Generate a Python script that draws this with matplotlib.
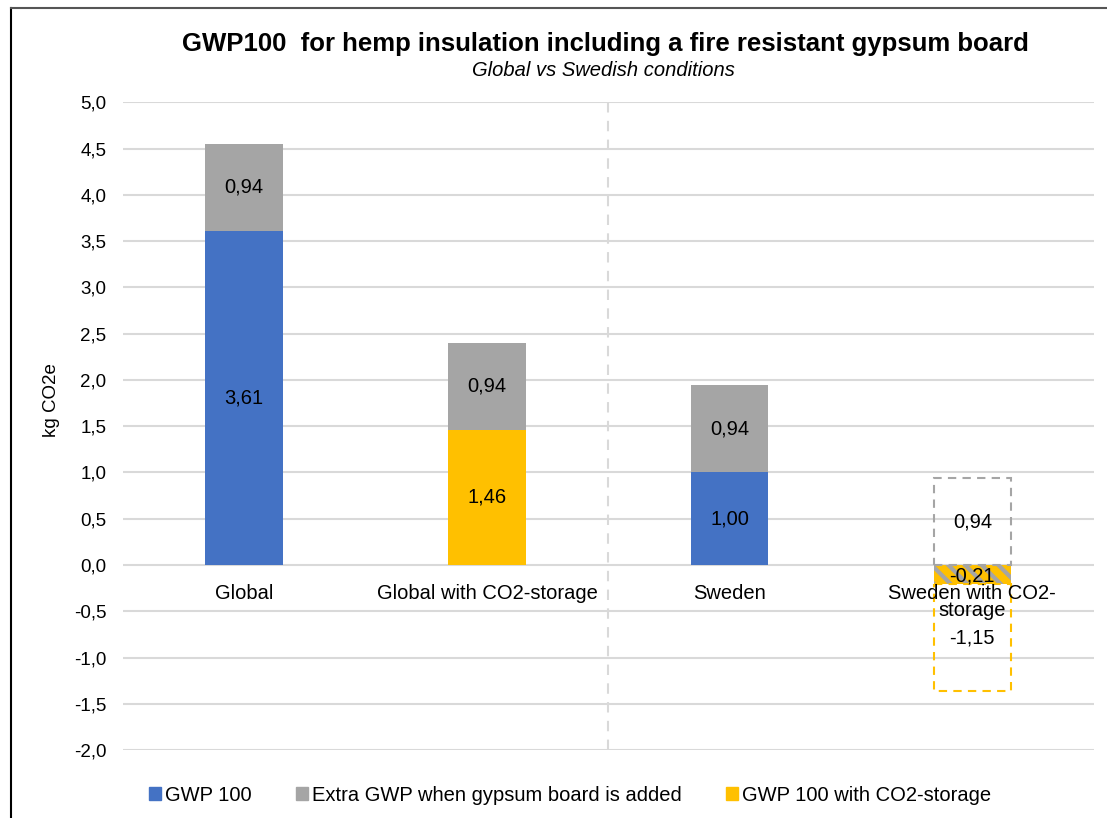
import numpy as np
from matplotlib import pyplot as plt
from matplotlib.patches import Patch

plt.rcParams['font.family'] = ['Liberation Sans', 'DejaVu Sans']

categories = ['Global', 'Global with CO2-storage', 'Sweden', 'Sweden with CO2-\nstorage']
gwp100 = [3.61, np.nan, 1.00, np.nan]
gwp100_co2 = [np.nan, 1.46, np.nan, -0.21]
gypsum = [0.94, 0.94, 0.94, 0.94]
sweden_co2_extra = -1.15

blue = '#4472C4'
grey = '#A5A5A5'
yellow = '#FFC000'

fig = plt.figure(figsize=(11.07, 8.18), dpi=100)
ax = fig.add_axes([0.111, 0.083, 0.877, 0.792])

x = np.arange(len(categories))
w = 0.32
fs = 14.5

# solid stacked bars for the first three groups
base = np.nan_to_num(gwp100) + np.nan_to_num(gwp100_co2)
ax.bar(x[[0, 2]], np.array(gwp100)[[0, 2]], w, color=blue, zorder=2)
ax.bar(x[1], gwp100_co2[1], w, color=yellow, zorder=2)
ax.bar(x[:3], gypsum[:3], w, bottom=base[:3], color=grey, zorder=2)

# last group: hatched small negative bar and dashed outline boxes
plt.rcParams['hatch.linewidth'] = 3
ax.bar(x[3], gwp100_co2[3], w, color=yellow, edgecolor=grey, hatch='\\\\', linewidth=0, zorder=2)
ax.bar(x[3], gypsum[3], w, fill=False, edgecolor=grey, linestyle=(0, (4, 3)), linewidth=1.5, zorder=2)
ax.bar(x[3], sweden_co2_extra, w, bottom=gwp100_co2[3], fill=False, edgecolor=yellow,
       linestyle=(0, (4, 3)), linewidth=1.5, zorder=2)

# value labels
lab = lambda v: f'{v:.2f}'.replace('.', ',')
for i in [0, 2]:
    ax.text(x[i], gwp100[i] / 2, lab(gwp100[i]), ha='center', va='center', fontsize=fs, zorder=3)
ax.text(x[1], gwp100_co2[1] / 2, lab(gwp100_co2[1]), ha='center', va='center', fontsize=fs, zorder=3)
for i in range(3):
    ax.text(x[i], base[i] + gypsum[i] / 2, lab(gypsum[i]), ha='center', va='center', fontsize=fs, zorder=3)
ax.text(x[3], gypsum[3] / 2, lab(gypsum[3]), ha='center', va='center', fontsize=fs, zorder=3)
ax.text(x[3], gwp100_co2[3] / 2 - 0.01, lab(gwp100_co2[3]), ha='center', va='center', fontsize=fs, zorder=3)
ax.text(x[3], gwp100_co2[3] + sweden_co2_extra / 2, lab(sweden_co2_extra), ha='center', va='center',
        fontsize=fs, zorder=3)

# category labels just under the zero line
for i, c in enumerate(categories):
    ax.text(x[i], -0.2, c, ha='center', va='top', fontsize=fs, linespacing=0.9, zorder=4)

ax.axvline(1.5, color='#D9D9D9', linestyle=(0, (5, 4)), linewidth=1.5, zorder=1)

ax.set_xlim(-0.5, 3.5)
ax.set_ylim(-2.0, 5.0)
ticks = np.arange(-2.0, 5.01, 0.5)
ax.set_yticks(ticks)
ax.set_yticklabels([f'{t:.1f}'.replace('.', ',') for t in ticks], fontsize=13.5)
ax.set_xticks([])
ax.tick_params(axis='y', length=0, pad=12)
ax.grid(axis='y', color='#D9D9D9', linewidth=1.5, zorder=0)
ax.set_axisbelow(True)
for s in ax.spines.values():
    s.set_visible(False)
ax.set_ylabel('kg CO2e', fontsize=13.5, labelpad=6)
ax.yaxis.set_label_coords(-0.065, 0.54)

fig.text(0.547, 0.946, 'GWP100  for hemp insulation including a fire resistant gypsum board',
         ha='center', va='center', fontsize=18.5, fontweight='bold')
fig.text(0.545, 0.914, 'Global vs Swedish conditions', ha='center', va='center', fontsize=14.5, style='italic')

handles = [Patch(color=blue), Patch(color=grey), Patch(color=yellow)]
fig.legend(handles, ['GWP 100', 'Extra GWP when gypsum board is added', 'GWP 100 with CO2-storage'],
           loc='center', bbox_to_anchor=(0.515, 0.028), ncol=3, frameon=False, fontsize=fs,
           handlelength=0.6, handleheight=0.6, handletextpad=0.2, columnspacing=2.2)

# outer border (left and top edges visible)
fig.add_artist(plt.Line2D([0.010, 0.010], [0, 0.990], color='black', linewidth=1.5, transform=fig.transFigure))
fig.add_artist(plt.Line2D([0.010, 1.0], [0.990, 0.990], color='#555555', linewidth=1.5, transform=fig.transFigure))

plt.savefig('out.png')
